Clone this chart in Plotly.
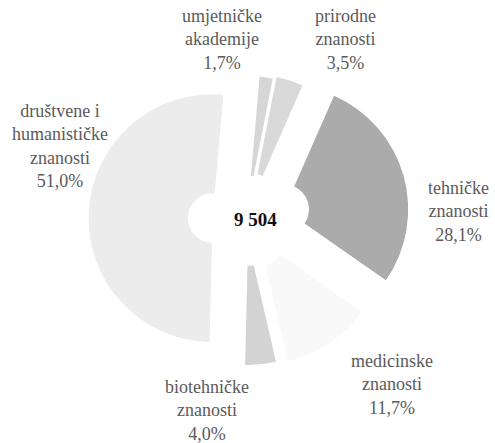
import plotly.graph_objects as go

# ---- data ----
categories = ["umjetničke<br>akademije", "prirodne<br>znanosti", "tehničke<br>znanosti",
              "medicinske<br>znanosti", "biotehničke<br>znanosti",
              "društvene i<br>humanističke<br>znanosti"]
shares = [1.7, 3.5, 28.1, 11.7, 4.0, 51.0]
share_labels = ["1,7%", "3,5%", "28,1%", "11,7%", "4,0%", "51,0%"]
total_label = "9 504"

# ---- styles ----
colors = ["#d6d6d6", "#d9d9d9", "#ababab", "#f9f9f9", "#d3d3d3", "#ececec"]
pulls = [0.16, 0.18, 0.32, 0.2, 0.17, 0.27]
W, H = 495, 443
CX, CY, R = 246, 220, 124
half = R * (1 + max(pulls))
label_pos = [(222, 39), (345, 40), (458, 211), (392, 384), (207, 410), (60, 146)]
FONT = "Times New Roman"

fig = go.Figure()
fig.add_trace(go.Pie(
    labels=categories, values=shares, sort=False, direction="clockwise",
    rotation=5, hole=0.2, pull=pulls, textinfo="none", hoverinfo="label+percent",
    marker=dict(colors=colors, line=dict(width=0)),
    domain=dict(x=[(CX - half) / W, (CX + half) / W],
                y=[(H - CY - half) / H, (H - CY + half) / H]),
    showlegend=False,
))

for cat, lab, (px, py) in zip(categories, share_labels, label_pos):
    fig.add_annotation(text=f"{cat}<br>{lab}", x=px / W, y=1 - py / H,
                       xref="paper", yref="paper", showarrow=False, align="center",
                       xanchor="center", yanchor="middle",
                       font=dict(family=FONT, size=18, color="#5a5a5a"))

fig.add_annotation(text=f"<b>{total_label}</b>", x=255 / W, y=1 - 220 / H,
                   xref="paper", yref="paper", showarrow=False,
                   font=dict(family=FONT, size=19, color="#111111"))

fig.update_layout(width=W, height=H, margin=dict(l=0, r=0, t=0, b=0),
                  paper_bgcolor="white", plot_bgcolor="white")
fig.write_html("out.html", config={"displayModeBar": False},
               post_script="document.body.style.margin='0';document.body.style.padding='0';")
